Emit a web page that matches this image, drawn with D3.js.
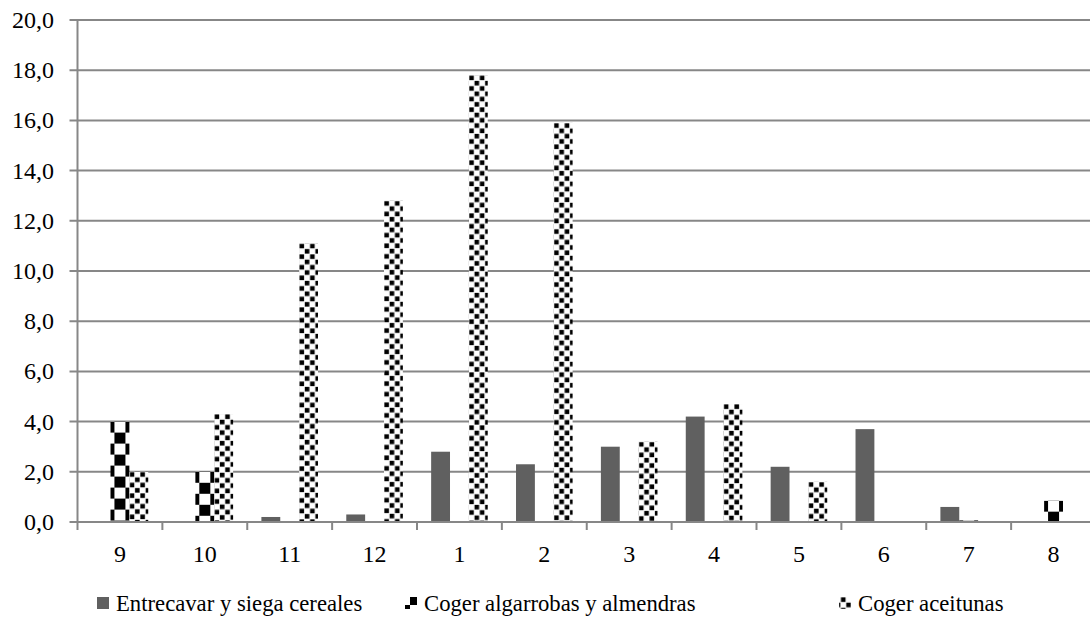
<!DOCTYPE html>
<html>
<head>
<meta charset="utf-8">
<script src="https://cdn.jsdelivr.net/npm/d3@7"></script>
<style>
  body { margin: 0; background: #fff; }
</style>
</head>
<body>
<div id="chart"></div>
<script>
const months = ["9", "10", "11", "12", "1", "2", "3", "4", "5", "6", "7", "8"]
const seriesNames = ["Entrecavar y siega cereales", "Coger algarrobas y almendras", "Coger aceitunas"]
const cereales = [0, 0, 0.2, 0.3, 2.8, 2.3, 3.0, 4.2, 2.2, 3.7, 0.6, 0.04]
const algarrobas = [4.0, 2.0, 0, 0, 0, 0, 0, 0, 0, 0, 0.07, 0.85]
const aceitunas = [2.0, 4.3, 11.1, 12.8, 17.8, 15.9, 3.2, 4.7, 1.6, 0, 0, 0]
const yTicks = [0, 2, 4, 6, 8, 10, 12, 14, 16, 18, 20]

const width = 1090
const height = 626
const margin = { left: 77.5, right: -6, top: 20, bottom: 104 }
const serif = "'Liberation Serif', 'Times New Roman', Times, serif"

const svg = d3.select("#chart").append("svg")
    .attr("width", width)
    .attr("height", height)
    .style("display", "block")
    .attr("font-family", serif)

const defs = svg.append("defs")

const x = d3.scaleBand()
    .domain(months)
    .range([margin.left, width - margin.right])

const x1 = d3.scaleBand()
    .domain(d3.range(3))
    .range([0, x.bandwidth()])
    .paddingOuter(0.75)

const y = d3.scaleLinear()
    .domain([0, 20])
    .range([height - margin.bottom, margin.top])

const fmt = d => d.toFixed(1).replace(".", ",")

// gridlines
svg.append("g")
    .selectAll("line")
    .data(yTicks.slice(1))
    .join("line")
    .attr("x1", margin.left - 8)
    .attr("x2", width)
    .attr("y1", d => y(d))
    .attr("y2", d => y(d))
    .attr("stroke", "#878787")
    .attr("stroke-width", 2)

// patterns, one per bar so each bar starts its pattern at its own edge
function bigChecker(id, px, py, s) {
    const p = defs.append("pattern")
        .attr("id", id)
        .attr("patternUnits", "userSpaceOnUse")
        .attr("x", px).attr("y", py)
        .attr("width", s * 2).attr("height", s * 2)
    p.append("rect").attr("width", s * 2).attr("height", s * 2).attr("fill", "#fff")
    p.append("rect").attr("x", s).attr("width", s).attr("height", s).attr("fill", "#000")
    p.append("rect").attr("y", s).attr("width", s).attr("height", s).attr("fill", "#000")
}

function smallChecker(id, px, py) {
    const s = 5.3
    const b = 4.6
    const p = defs.append("pattern")
        .attr("id", id)
        .attr("patternUnits", "userSpaceOnUse")
        .attr("x", px).attr("y", py)
        .attr("width", s * 2).attr("height", s * 2)
    p.append("rect").attr("width", s * 2).attr("height", s * 2).attr("fill", "#fff")
    p.append("rect").attr("x", 0.35).attr("y", 0.35).attr("width", b).attr("height", b).attr("fill", "#000")
    p.append("rect").attr("x", s + 0.35).attr("y", s + 0.35).attr("width", b).attr("height", b).attr("fill", "#000")
}

const baseY = y(0)

// bars
const rows = []
months.forEach((m, i) => {
    rows.push({ m, i, s: 0, v: cereales[i] })
    rows.push({ m, i, s: 1, v: algarrobas[i] })
    rows.push({ m, i, s: 2, v: aceitunas[i] })
})

rows.forEach(d => {
    const bx = x(d.m) + x1(d.s)
    if (d.s === 1) bigChecker("alg" + d.i, bx + x1.bandwidth() / 2 - 5.5, y(d.v), 11)
    if (d.s === 2) smallChecker("ace" + d.i, bx, y(d.v))
})

svg.append("g")
    .selectAll("rect")
    .data(rows.filter(d => d.v > 0))
    .join("rect")
    .attr("x", d => x(d.m) + x1(d.s))
    .attr("width", x1.bandwidth())
    .attr("y", d => y(d.v))
    .attr("height", d => baseY - y(d.v))
    .attr("fill", d => d.s === 0 ? "#606060" : d.s === 1 ? "url(#alg" + d.i + ")" : "url(#ace" + d.i + ")")

// axes
svg.append("line")
    .attr("x1", margin.left).attr("x2", margin.left)
    .attr("y1", y(20)).attr("y2", baseY)
    .attr("stroke", "#878787").attr("stroke-width", 2)

svg.append("line")
    .attr("x1", margin.left - 8).attr("x2", width)
    .attr("y1", baseY).attr("y2", baseY)
    .attr("stroke", "#878787").attr("stroke-width", 2)

svg.append("g")
    .selectAll("line")
    .data(d3.range(months.length + 1))
    .join("line")
    .attr("x1", i => margin.left + i * x.step())
    .attr("x2", i => margin.left + i * x.step())
    .attr("y1", baseY)
    .attr("y2", baseY + 8)
    .attr("stroke", "#878787").attr("stroke-width", 2)

svg.append("g")
    .selectAll("text")
    .data(yTicks)
    .join("text")
    .attr("x", 54)
    .attr("y", d => y(d) + 8)
    .attr("text-anchor", "end")
    .attr("font-family", serif)
    .attr("font-size", 24)
    .text(fmt)

svg.append("g")
    .selectAll("text")
    .data(months)
    .join("text")
    .attr("x", d => x(d) + x.bandwidth() / 2)
    .attr("y", 562)
    .attr("text-anchor", "middle")
    .attr("font-family", serif)
    .attr("font-size", 24)
    .text(d => d)

// legend
const legendX = [97, 405, 839]
bigChecker("legAlg", legendX[1] - 8, 597, 8)
smallChecker("legAce", legendX[2], 597)
const legend = svg.append("g")
    .selectAll("g")
    .data(seriesNames)
    .join("g")
    .attr("transform", (d, i) => `translate(${legendX[i]},0)`)

legend.append("rect")
    .attr("y", 597)
    .attr("width", 12)
    .attr("height", 12)
    .attr("fill", (d, i) => i === 0 ? "#606060" : i === 1 ? "url(#legAlg)" : "url(#legAce)")

legend.append("text")
    .attr("x", 19)
    .attr("y", 611)
    .attr("font-family", serif)
    .attr("font-size", 22.7)
    .text(d => d)
</script>
</body>
</html>
